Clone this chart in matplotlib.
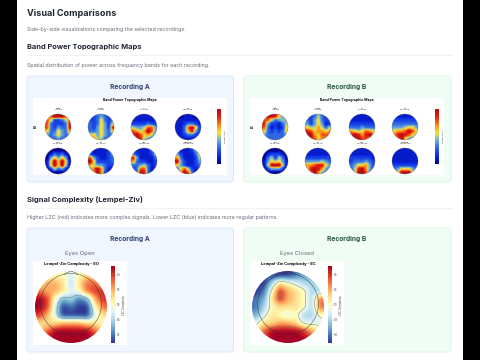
#!/usr/bin/env python3
import matplotlib
matplotlib.use("Agg")
import matplotlib.pyplot as plt
import numpy as np
from matplotlib.colors import LinearSegmentedColormap
from matplotlib.patches import Circle, FancyBboxPatch, Rectangle

plt.rcParams["font.family"] = ["Inter", "DejaVu Sans"]

# band power values, top row first, 0 = low and 10 = high
a_delta = [[5,8,10,10,10,8,5],[8,6,2,2,3,5,8],[8,3,2,2,2,3,9],[8,3,2,4,3,3,9],[6,3,3,6,4,3,7],[4,3,4,6,4,3,4],[3,3,3,4,3,3,3]]
a_theta = [[2,2,3,4,3,2,2],[2,2,3,6,3,2,3],[3,2,3,6,4,2,5],[3,2,4,6,4,2,9],[3,3,4,6,4,3,6],[6,6,4,6,4,3,3],[6,7,5,5,3,3,3]]
a_a1 = [[1,1,1,1,1,1,1],[1,1,1,1,1,1,1],[2,2,2,2,3,2,2],[5,4,4,5,8,8,4],[8,7,5,7,10,8,4],[9,10,8,6,7,5,3],[5,9,9,5,4,3,2]]
a_a2 = [[0,0,1,1,1,0,0],[1,1,1,1,1,1,1],[1,1,2,3,3,2,1],[1,1,3,8,10,6,2],[1,1,3,7,9,4,2],[1,1,2,3,3,2,1],[0,1,1,1,1,1,0]]
a_smr = [[0,0,0,0,0,0,0],[0,1,3,2,3,1,0],[0,4,6,4,6,4,0],[1,6,10,6,10,6,1],[1,6,10,6,10,5,1],[0,2,5,3,4,2,0],[0,0,0,0,0,0,0]]
a_b1 = [[1,1,1,1,1,2,3],[2,1,1,1,1,2,4],[8,4,2,1,1,2,3],[10,6,2,2,2,2,3],[7,5,4,4,3,2,2],[3,8,10,7,3,1,1],[2,7,10,7,2,1,1]]
a_hib = [[1,1,1,1,1,3,4],[3,2,1,1,1,2,5],[9,4,1,1,1,1,3],[7,3,2,2,1,1,2],[3,3,4,5,3,1,2],[2,3,8,8,3,1,1],[1,3,10,9,3,1,1]]
a_gamma = [[2,1,1,1,2,4,5],[4,2,1,1,1,3,6],[7,3,1,1,1,2,5],[10,4,2,1,1,2,4],[6,4,2,1,1,2,3],[3,6,8,5,2,1,2],[2,7,10,8,3,1,1]]

b_delta = [[6,9,10,9,6,4,3],[8,8,5,3,4,5,4],[9,4,2,2,1,3,5],[8,3,1,2,1,2,6],[6,3,2,3,2,3,6],[4,3,3,3,3,3,4],[3,3,3,3,3,3,3]]
b_theta = [[2,2,3,5,3,2,2],[3,2,4,6,3,2,2],[4,2,4,6,4,1,2],[6,5,5,7,5,3,5],[9,8,6,7,7,6,7],[10,10,7,6,8,8,8],[7,9,8,6,7,7,5]]
b_a1 = [[1,1,1,1,1,1,1],[1,1,1,1,1,1,1],[2,2,2,2,2,2,2],[3,3,3,4,3,3,3],[7,6,5,6,8,7,6],[9,10,9,7,9,10,8],[7,10,10,8,8,7,5]]
b_a2 = [[1,1,1,1,1,1,1],[2,2,2,2,2,2,2],[3,3,3,3,3,3,3],[4,4,4,5,6,6,4],[6,7,7,8,10,8,6],[7,9,10,9,8,6,4],[3,8,10,6,4,3,2]]
b_smr = [[0,0,0,0,0,0,0],[0,1,2,2,2,1,0],[0,3,5,2,5,3,0],[1,4,6,5,6,4,1],[1,5,10,10,10,5,1],[0,2,4,4,4,2,0],[0,0,0,0,0,0,0]]
b_b1 = [[1,1,1,1,1,1,1],[1,1,1,1,1,1,1],[2,2,2,2,2,2,2],[4,4,4,4,5,4,3],[7,7,8,9,9,6,4],[6,9,10,9,7,4,3],[3,8,10,7,4,3,2]]
b_hib = [[1,1,1,1,1,1,1],[1,1,1,1,1,1,1],[2,2,2,2,2,2,1],[2,3,3,3,4,3,2],[3,4,6,6,7,4,2],[3,5,9,10,7,4,2],[2,5,10,10,8,3,1]]
b_gamma = [[1,1,1,1,1,1,1],[1,1,1,1,1,1,1],[1,1,1,1,1,1,1],[1,1,1,1,1,1,1],[2,2,2,2,2,2,2],[3,4,6,6,6,4,3],[2,6,10,10,10,6,2]]

# lempel-ziv maps
lzc_a = [[5,5,5,5,4,5,6,6,6],[6,7,7,6,3,6,8,8,7],[8,7,7,6,4,5,8,9,9],[10,9,5,2,3,1,2,7,9],[10,9,4,0,1,0,0,5,8],[9,7,4,0,0,0,0,4,6],[6,6,6,7,7,7,6,6,5],[6,8,10,10,10,10,10,8,6],[10,10,10,10,10,10,10,10,10]]
lzc_b = [[0,0,0,0,0,1,2,2,2],[0,0,3,6,5,4,3,3,3],[0,1,5,9,7,6,5,3,3],[1,2,6,9,7,6,5,3,8],[1,3,5,6,6,6,5,3,8],[2,4,6,5,4,5,3,3,5],[4,6,6,7,7,6,4,4,4],[6,8,10,10,10,10,9,7,6],[7,9,10,10,10,10,10,9,7]]

band_titles = ["Delta\n1-4 Hz", "Theta\n4-8 Hz", "A1\n8-10 Hz", "A2\n10-13 Hz", "SMR\n13-15 Hz", "B1\n15-20 Hz", "HiB\n20-30 Hz", "Gamma\n30-45 Hz"]
maps_a = [a_delta, a_theta, a_a1, a_a2, a_smr, a_b1, a_hib, a_gamma]
maps_b = [b_delta, b_theta, b_a1, b_a2, b_smr, b_b1, b_hib, b_gamma]
lzc_ticks_a = ["1.2", "1.4", "1.6", "1.8", "2.0"]
lzc_ticks_b = ["0.6", "0.8", "1.0", "1.2", "1.4"]

INK = "#1f2733"
MUTED = "#656c78"
band_cmap = LinearSegmentedColormap.from_list(
    "band", ["#00008c", "#0a28e6", "#2a62e4", "#6fb0d8", "#f8e23c", "#fa8a14", "#e81c14", "#b01010"]
)
lzc_cmap = plt.get_cmap("RdYlBu_r")


def smooth(grid, width, factor=12):
    field = np.kron(np.array(grid, dtype=float), np.ones((factor, factor)))
    kernel = np.ones(width) / width
    for _ in range(3):
        pad = np.pad(field, factor, mode="edge")
        pad = np.apply_along_axis(lambda v: np.convolve(v, kernel, mode="same"), 0, pad)
        pad = np.apply_along_axis(lambda v: np.convolve(v, kernel, mode="same"), 1, pad)
        field = pad[factor:-factor, factor:-factor]
    return field


def card(ax, x0, y0, x1, y1, face, edge):
    ax.add_patch(FancyBboxPatch((x0, y0), x1 - x0, y1 - y0, boxstyle="round,pad=0,rounding_size=3",
                                fc=face, ec=edge, lw=0.7, zorder=1))


def topo(ax, grid, cx, cy, r, cmap, levels=None, head=False):
    field = smooth(grid, 9 if head else 6)
    extent = (cx - r, cx + r, cy + r, cy - r)
    im = ax.imshow(field, cmap=cmap, vmin=0, vmax=10, extent=extent, interpolation="bilinear", zorder=3)
    clip = Circle((cx, cy), r, transform=ax.transData)
    im.set_clip_path(clip)
    if levels:
        ys = np.linspace(cy - r, cy + r, field.shape[0])
        xs = np.linspace(cx - r, cx + r, field.shape[1])
        cs = ax.contour(xs, ys, field, levels=levels, colors="#6a6a60", linewidths=0.3, zorder=4)
        cs.set_clip_path(Circle((cx, cy), r, transform=ax.transData))
    if head:
        ax.add_patch(Circle((cx, cy - 3), 30.5, fc="none", ec="#333333", lw=0.3, zorder=5))
        ax.plot([cx - 7, cx, cx + 7], [cy - 33, cy - r, cy - 33], color="#333333", lw=0.3, zorder=5)
    else:
        ax.add_patch(Circle((cx, cy), r, fc="none", ec="#555555", lw=0.25, zorder=5))


def colorbar(ax, x0, x1, y0, y1, cmap):
    ramp = np.linspace(10, 0, 128).reshape(-1, 1)
    ax.imshow(ramp, cmap=cmap, vmin=0, vmax=10, extent=(x0, x1, y1, y0), aspect="auto", zorder=3)


def band_panel(ax, img_x, maps, row_label, xs, bar_x):
    ax.add_patch(Rectangle((img_x, 98), 194, 77, fc="white", ec="none", zorder=2))
    ax.text(img_x + 97, 100.5, "Band Power Topographic Maps", fontsize=2.5, fontweight="bold",
            ha="center", va="center", color="black", zorder=6)
    ax.text(img_x + 2.5, 126, row_label, fontsize=2.2, fontweight="bold", rotation=90,
            ha="center", va="center", color="black", zorder=6)
    for i, grid in enumerate(maps):
        cy = 127 if i < 4 else 161
        cx = xs[i % 4]
        topo(ax, grid, cx, cy, 13, band_cmap)
        ax.text(cx, cy - 18, band_titles[i], fontsize=1.6, ha="center", va="center",
                color="black", linespacing=1.0, zorder=6)
    colorbar(ax, bar_x, bar_x + 3.5, 109, 164, band_cmap)
    ax.text(bar_x + 8, 136, "Power (a.u.)", fontsize=1.7, rotation=90, ha="center", va="center",
            color="#333333", zorder=6)


def lzc_panel(ax, img_x, grid, title, bar_x, ticks, cx, levels):
    ax.add_patch(Rectangle((img_x, 261), 94, 84, fc="white", ec="none", zorder=2))
    ax.text(img_x + 38, 264, title, fontsize=2.9, fontweight="bold", ha="center", va="center",
            color="black", zorder=6)
    topo(ax, grid, cx, 307, 36, lzc_cmap, levels=levels, head=True)
    colorbar(ax, bar_x, bar_x + 4, 266, 343, lzc_cmap)
    for i, t in enumerate(ticks):
        y = 335 - i * 15
        ax.plot([bar_x + 4, bar_x + 5], [y, y], color="#444444", lw=0.2, zorder=5)
        ax.text(bar_x + 6, y, t, fontsize=1.9, va="center", color="#333333", zorder=6)
    ax.text(bar_x + 13, 305, "LZC Complexity", fontsize=1.9, rotation=90, ha="center", va="center",
            color="#333333", zorder=6)


fig = plt.figure(figsize=(4.8, 3.6), dpi=100)
ax = fig.add_axes([0, 0, 1, 1])
ax.set_xlim(0, 480)
ax.set_ylim(360, 0)
ax.axis("off")

ax.add_patch(Rectangle((0, 0), 17, 360, fc="black", ec="none"))
ax.add_patch(Rectangle((463, 0), 17, 360, fc="black", ec="none"))

ax.text(27, 13, "Visual Comparisons", fontsize=6.5, fontweight="bold", va="center", color=INK)
ax.text(27, 29, "Side-by-side visualizations comparing the selected recordings.", fontsize=3.85, va="center", color=MUTED)
ax.text(27, 47.5, "Band Power Topographic Maps", fontsize=5.4, fontweight="bold", va="center", color=INK)
ax.plot([27, 451], [55, 55], color="#eef0f3", lw=0.6)
ax.text(27, 66, "Spatial distribution of power across frequency bands for each recording.", fontsize=3.85, va="center", color=MUTED)

card(ax, 27, 76, 233.5, 182, "#eff6ff", "#dbe7f8")
card(ax, 243.5, 76, 451, 182, "#f0fdf5", "#dcf5e4")
ax.text(130, 87.5, "Recording A", fontsize=4.8, fontweight="bold", ha="center", va="center", color="#2c4479")
ax.text(347, 87.5, "Recording B", fontsize=4.8, fontweight="bold", ha="center", va="center", color="#2a5a45")
band_panel(ax, 33, maps_a, "EO", [58, 101, 144, 188], 217)
band_panel(ax, 250, maps_b, "EC", [275, 318, 362, 405], 435)

ax.text(27, 199.5, "Signal Complexity (Lempel-Ziv)", fontsize=5.4, fontweight="bold", va="center", color=INK)
ax.plot([27, 451], [208, 208], color="#eef0f3", lw=0.6)
ax.text(27, 218, "Higher LZC (red) indicates more complex signals. Lower LZC (blue) indicates more regular patterns.",
        fontsize=3.85, va="center", color=MUTED)

card(ax, 27, 228, 233.5, 352, "#eff6ff", "#dbe7f8")
card(ax, 243.5, 228, 451, 352, "#f0fdf5", "#dcf5e4")
ax.text(130, 239.5, "Recording A", fontsize=4.8, fontweight="bold", ha="center", va="center", color="#2c4479")
ax.text(347, 239.5, "Recording B", fontsize=4.8, fontweight="bold", ha="center", va="center", color="#2a5a45")
ax.text(80, 253.5, "Eyes Open", fontsize=4.2, ha="center", va="center", color=MUTED)
ax.text(296.5, 253.5, "Eyes Closed", fontsize=4.2, ha="center", va="center", color=MUTED)
lzc_panel(ax, 33, lzc_a, "Lempel-Ziv Complexity - EO", 111, lzc_ticks_a, 71, [3.0])
lzc_panel(ax, 250, lzc_b, "Lempel-Ziv Complexity - EC", 328, lzc_ticks_b, 288, [4.6, 8.2])

ax.set_xlim(0, 480)
ax.set_ylim(360, 0)
ax.set_aspect("auto")
fig.savefig("out.png", dpi=100)
